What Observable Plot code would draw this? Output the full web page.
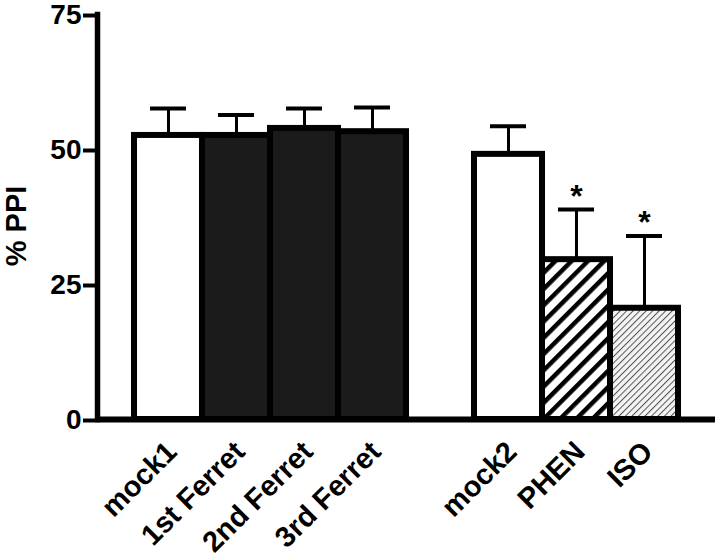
<!DOCTYPE html>
<html>
<head>
<meta charset="utf-8">
<script src="https://cdn.jsdelivr.net/npm/d3@7"></script>
<script src="https://cdn.jsdelivr.net/npm/@observablehq/plot@0.6"></script>
<style>
  html, body { margin: 0; padding: 0; background: #fff; }
  #chart svg { display: block; }
</style>
</head>
<body>
<div id="chart"></div>
<script>
// ---- data ----
const categories = ["mock1", "1st Ferret", "2nd Ferret", "3rd Ferret", "mock2", "PHEN", "ISO"];
const means      = [52.6, 52.6, 53.9, 53.3, 49.1, 29.6, 20.6];
const errors     = [5.0, 3.8, 3.7, 4.5, 5.2, 9.3, 13.4];
const signif     = ["", "", "", "", "", "*", "*"];
const yTicks     = [0, 25, 50, 75];
const yLabel     = "% PPI";

// x domain: a blank slot separates the two experiments
const xDomain = [...categories.slice(0, 4), "gap", ...categories.slice(4)];

// fill style for each category
const fills = ["white", "#1b1b1b", "#1b1b1b", "#1b1b1b", "white", "url(#hatchBold)", "url(#hatchFine)"];

const data = categories.map((c, i) => ({cat: c, mean: means[i], err: errors[i], sig: signif[i]}));

const svg = Plot.plot({
  width: 720,
  height: 559,
  marginLeft: 97,
  marginRight: 5,
  marginTop: 14,
  marginBottom: 140,
  style: {fontFamily: "'Liberation Sans', Arial, sans-serif", fontWeight: "bold", background: "white", color: "black"},
  x: {type: "band", domain: xDomain, paddingInner: 0, paddingOuter: 0.48, axis: null},
  y: {domain: [0, 75], axis: null},
  color: {type: "ordinal", domain: categories, range: fills},
  marks: [
    Plot.barY(data, {x: "cat", y: "mean", fill: "cat", stroke: "black", strokeWidth: 6}),
    Plot.ruleX(data, {x: "cat", y1: "mean", y2: d => d.mean + d.err, stroke: "black", strokeWidth: 3}),
    Plot.tickY(data, {x: "cat", y: d => d.mean + d.err, stroke: "black", strokeWidth: 4, insetLeft: 16, insetRight: 16}),
    Plot.text(data.filter(d => d.sig), {x: "cat", y: d => d.mean + d.err, text: "sig", dy: -13, fontSize: 32, fontWeight: "bold"}),
    Plot.ruleY([0], {stroke: "black", strokeWidth: 6}),
    Plot.frame({anchor: "left", stroke: "black", strokeWidth: 5.5}),
    Plot.axisY({ticks: yTicks, tickSize: 14, tickPadding: 2, fontSize: 28, fontWeight: "bold", strokeWidth: 4, label: null, dy: 1}),
    Plot.text(data, {x: "cat", frameAnchor: "bottom", text: "cat", rotate: -45, textAnchor: "end", lineAnchor: "bottom", dx: 10, dy: 34, fontSize: 29, fontWeight: "bold"}),
    Plot.text([yLabel], {frameAnchor: "left", textAnchor: "middle", lineAnchor: "middle", rotate: -90, dx: -81, dy: 9, fontSize: 29, fontWeight: "bold"})
  ]
});

// hatch patterns
const defs = d3.select(svg).insert("defs", ":first-child");
const p1 = defs.append("pattern").attr("id", "hatchBold").attr("patternUnits", "userSpaceOnUse")
  .attr("width", 11.5).attr("height", 11.5).attr("patternTransform", "rotate(45)");
p1.append("rect").attr("width", 11.5).attr("height", 11.5).attr("fill", "white");
p1.append("rect").attr("x", 0).attr("width", 4.5).attr("height", 11.5).attr("fill", "black");
const p2 = defs.append("pattern").attr("id", "hatchFine").attr("patternUnits", "userSpaceOnUse")
  .attr("width", 4.6).attr("height", 4.6).attr("patternTransform", "rotate(45)");
p2.append("rect").attr("width", 4.6).attr("height", 4.6).attr("fill", "#f4f4f4");
p2.append("rect").attr("x", 0).attr("width", 1).attr("height", 4.6).attr("fill", "#555");

document.getElementById("chart").appendChild(svg);
</script>
</body>
</html>
